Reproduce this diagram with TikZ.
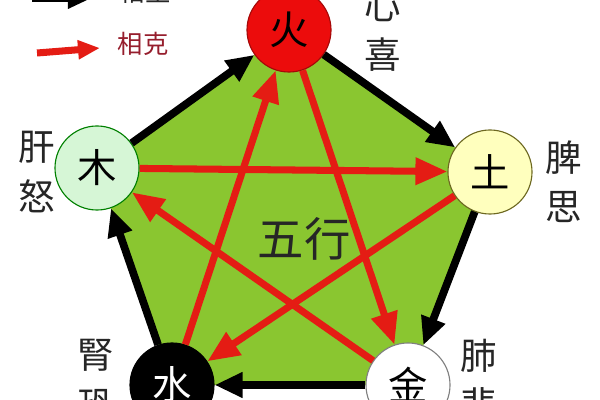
\documentclass[tikz,border=0pt]{standalone}
\usepackage{fontspec}
\setmainfont{Noto Sans CJK SC}
\usetikzlibrary{arrows.meta,backgrounds}
\definecolor{wxgreen}{RGB}{138,198,48}
\definecolor{wxred}{RGB}{228,28,20}
\definecolor{firered}{RGB}{236,12,12}
\definecolor{woodgreen}{RGB}{214,246,214}
\definecolor{earthyellow}{RGB}{255,255,190}
\definecolor{kered}{RGB}{150,30,45}

\begin{document}
\begin{tikzpicture}[x=0.025cm,y=-0.025cm,
    element/.style={circle,minimum size=2.1cm,inner sep=0pt,line width=0.8pt,font=\fontsize{28}{28}\selectfont},
    organ/.style={align=center,inner sep=0pt,font=\fontsize{26}{35}\selectfont,text=black!85},
    sheng/.style={draw=black,line width=5.5pt,-{Triangle[length=7mm,width=6mm]}},
    ke/.style={draw=wxred,line width=5pt,-{Triangle[length=8mm,width=6.5mm]}}]
    \clip (0,0) rectangle (600,400);
    % the five elements
    \node[element,fill=firered,draw=firered!70!black] (huo) at (289,30) {火};
    \node[element,fill=woodgreen,draw=green!50!black] (mu) at (97,168) {木};
    \node[element,fill=earthyellow,draw=olive!70!black] (tu) at (490,172) {土};
    \node[element,fill=black,draw=black,text=white] (shui) at (172,385) {水};
    \node[element,fill=white,draw=gray] (jin) at (408,385) {金};
    \begin{scope}[on background layer]
        \fill[wxgreen] (huo.center) -- (tu.center) -- (jin.center) -- (shui.center) -- (mu.center) -- cycle;
    \end{scope}
    \node[font=\fontsize{33}{33}\selectfont,text=black!85] (wuxing) at (304,239) {五行};
    % organs and emotions
    \node[organ] (xin) at (383,31) {心\\喜};
    \node[organ] (gan) at (37,172) {肝\\怒};
    \node[organ] (pi) at (564,182) {脾\\思};
    \node[organ] (fei) at (479,380) {肺\\悲};
    \node[organ] (shen) at (96,380) {腎\\恐};
    % sheng cycle
    \draw[sheng] (mu) -- (huo);
    \draw[sheng] (huo) -- (tu);
    \draw[sheng] (tu) -- (jin);
    \draw[sheng] (jin) -- (shui);
    \draw[sheng] (shui) -- (mu);
    % ke cycle
    \draw[ke] (mu) -- (tu);
    \draw[ke] (tu) -- (shui);
    \draw[ke] (shui) -- (huo);
    \draw[ke] (huo) -- (jin);
    \draw[ke] (jin) -- (mu);
    % legend
    \coordinate (shengA) at (32,-2);
    \coordinate (shengB) at (92,-2);
    \draw[draw=black,line width=6pt,-{Triangle[length=6mm,width=5mm]}] (shengA) -- (shengB);
    \node[font=\fontsize{18}{18}\selectfont,text=black!85] (shengtxt) at (145,-8) {相生};
    \coordinate (keA) at (37,53);
    \coordinate (keB) at (100,48);
    \draw[draw=wxred,line width=5pt,-{Triangle[length=5.5mm,width=4.5mm]}] (keA) -- (keB);
    \node[font=\fontsize{18}{18}\selectfont,text=kered] (ketxt) at (143,44) {相克};
\end{tikzpicture}
\end{document}
